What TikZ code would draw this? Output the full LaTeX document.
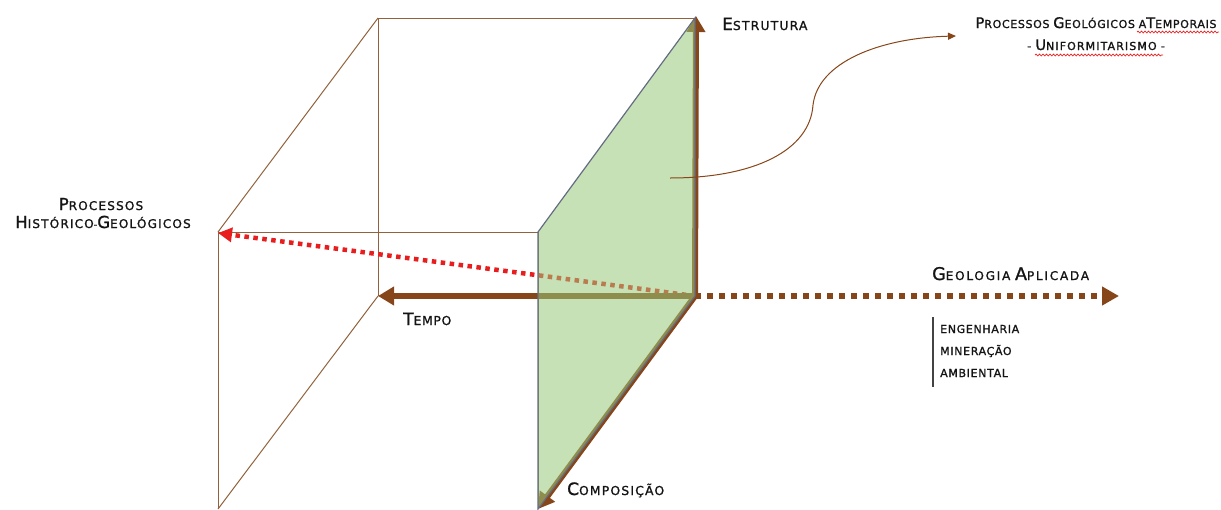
\documentclass[tikz,border=0pt]{standalone}
\usepackage{fontspec}
\setmainfont{DejaVu Sans}[LetterSpace=6,FakeBold=1.3]
\newfontfamily\fontB{DejaVu Sans}[LetterSpace=10,FakeBold=1.3]
\newfontfamily\fontC{DejaVu Sans}[LetterSpace=15,FakeBold=1.3]
\usetikzlibrary{arrows.meta,decorations.pathmorphing}
\definecolor{cubeline}{RGB}{145,98,60}
\definecolor{axbrown}{RGB}{135,70,25}
\definecolor{dotred}{RGB}{232,30,30}
\definecolor{planegreen}{RGB}{150,200,120}
\definecolor{planeedge}{RGB}{100,108,130}
\definecolor{txt}{RGB}{20,20,20}
\newcommand\Bg[1]{{\fontsize{\bgsz}{\bgsz}\selectfont #1}}
\newcommand\Sm[1]{{\fontsize{\smsz}{\smsz}\selectfont #1}}
\def\bgsz{17}\def\smsz{12.3}
\tikzset{
  edge/.style={draw=cubeline, line width=1pt},
  thickax/.style={draw=axbrown, line width=6pt, -{Triangle[length=16pt,width=18pt]}},
  lbl/.style={inner sep=0pt, text=txt},
  wavy/.style={draw=dotred, line width=0.7pt, decorate, decoration={snake, amplitude=0.9pt, segment length=3.5pt}}
}
\begin{document}
\begin{tikzpicture}[x=1pt,y=-1pt]
\useasboundingbox (0,0) rectangle (1221,509);
% cube vertices
\coordinate (b1) at (378,18);
\coordinate (b2) at (695,18);
\coordinate (b3) at (695,296);
\coordinate (b4) at (378,296);
\coordinate (f1) at (218,232);
\coordinate (f2) at (538,232);
\coordinate (f3) at (538,509);
\coordinate (f4) at (218,509);
\coordinate (ptop) at (696,16);
% thin cube edges
\draw[edge] (b2) -- (b1) -- (b4);
\draw[edge] (b1) -- (f1);
\draw[edge] (b4) -- (f4);
\draw[edge] (f4) -- (f1) -- (f2) -- (f3);
% labels
\node[lbl, anchor=base west, font=\fontB] (estr) at (722,30) {\Bg{E}\Sm{STRUTURA}};
\node[lbl, anchor=base west] (tempo) at (403,325) {\Bg{T}\Sm{EMPO}};
\node[lbl, anchor=base west, font=\fontB] (comp) at (567,495) {\Bg{C}\Sm{OMPOSIÇÃO}};
\begingroup\def\bgsz{14.6}\def\smsz{11}
\node[lbl, anchor=base] (pga) at (1096,28) {\Bg{P}\Sm{ROCESSOS} \Bg{G}\Sm{EOLÓGICOS} \Sm{A}\Bg{T}\Sm{EMPORAIS}};
\node[lbl, anchor=base, font=\fontB] (unif) at (1096,50) {\Sm{-} \Bg{U}\Sm{NIFORMITARISMO} \Sm{-}};
\endgroup
\begingroup\def\bgsz{17.5}\def\smsz{12}
\node[lbl, anchor=base west, font=\fontC] (geo) at (932,280) {\Bg{G}\Sm{EOLOGIA} \Bg{A}\Sm{PLICADA}};
\endgroup
\begingroup\def\bgsz{16.5}\def\smsz{12}
\node[lbl, anchor=base, font=\fontB] (ph1) at (101,210) {\Bg{P}\Sm{ROCESSOS}};
\node[lbl, anchor=base, font=\fontB] (ph2) at (103,228) {\Bg{H}\Sm{ISTÓRICO}-\Bg{G}\Sm{EOLÓGICOS}};
\endgroup
\begingroup\def\smsz{11}
\node[lbl, anchor=base west] (eng) at (940,333) {\Sm{ENGENHARIA}};
\node[lbl, anchor=base west] (min) at (940,355) {\Sm{MINERAÇÃO}};
\node[lbl, anchor=base west] (amb) at (940,377) {\Sm{AMBIENTAL}};
\endgroup
\coordinate (bar1) at (933,317);
\coordinate (bar2) at (933,387);
\draw[draw=txt!80, line width=1.2pt] (bar1) -- (bar2);
% wavy spell underlines
\coordinate (w1a) at (1137,32); \coordinate (w1b) at (1219,32);
\coordinate (w2a) at (1035,55); \coordinate (w2b) at (1163,55);
\draw[wavy] (w1a) -- (w1b);
\draw[wavy] (w2a) -- (w2b);
% dotted axes
\coordinate (geoend) at (1119,296);
\coordinate (hist) at (218,233);
\draw[draw=dotred, line width=4.5pt, dash pattern=on 4.5pt off 4.5pt,
  -{Triangle[length=14pt,width=14pt,fill=dotred]}] (b3) -- (hist);
\draw[draw=axbrown, line width=6pt, dash pattern=on 6pt off 6pt,
  -{Triangle[length=17pt,width=18pt]}] (b3) -- (geoend);
% thick axes
\draw[thickax] (b3) -- (b4);
\draw[thickax] (b3) -- (ptop);
\draw[thickax] (b3) -- (f3);
% green plane
\draw[fill=planegreen, fill opacity=0.55, draw=planeedge, line width=1.2pt]
  (f2) -- (b2) -- (b3) -- (f3) -- cycle;
% curved callout
\coordinate (cstart) at (670,178);
\coordinate (cmid) at (813,105);
\coordinate (cend) at (956,36);
\draw[draw=axbrown, line width=1pt, -{Triangle[length=8pt,width=7pt]}]
  (cstart) .. controls (755,178) and (810,150) .. (cmid)
  .. controls (818,62) and (880,38) .. (cend);
\end{tikzpicture}
\end{document}
